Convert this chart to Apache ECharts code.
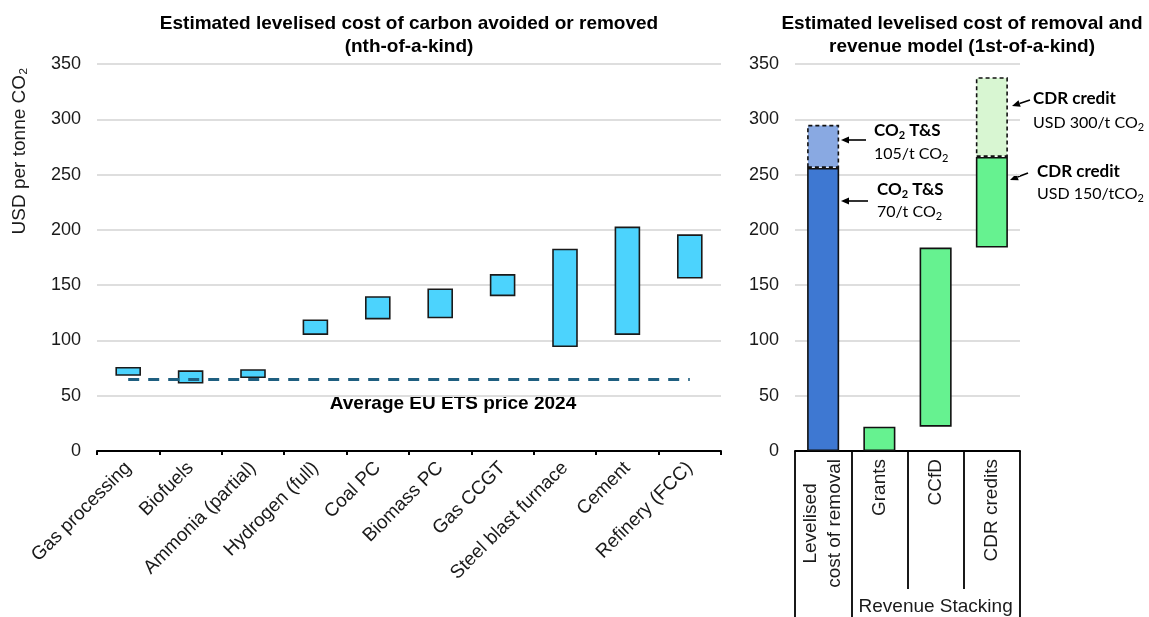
<!DOCTYPE html>
<html>
<head>
<meta charset="utf-8">
<script src="https://cdn.jsdelivr.net/npm/echarts@6/dist/echarts.min.js"></script>
<style>
  html, body { margin: 0; padding: 0; background: #fff; }
  #chart { width: 1149px; height: 617px; }
</style>
</head>
<body>
<div id="chart"></div>
<script>
// Levelised cost of carbon avoided or removed, nth-of-a-kind (USD per tonne CO2)
const sectors = ['Gas processing', 'Biofuels', 'Ammonia (partial)', 'Hydrogen (full)', 'Coal PC',
  'Biomass PC', 'Gas CCGT', 'Steel blast furnace', 'Cement', 'Refinery (FCC)'];
const costLow  = [68, 61, 66, 105, 119, 120, 140, 94, 105, 156];
const costHigh = [76, 73, 74, 119, 140, 147, 160, 183, 203, 196];
const etsPrice = 65;

// Removal cost and revenue model, 1st-of-a-kind
const revenueCats = ['Levelised\ncost of removal', 'Grants', 'CCfD', 'CDR credits'];
const revenueLow   = [0, 0, 22, 184];
const revenueHigh  = [256, 22, 184, 266];
const revenueUpper = [295, null, null, 338];

const yTicks = [0, 50, 100, 150, 200, 250, 300, 350];

const FONT = '"Liberation Sans", Arial, sans-serif';
const NOTE_FONT = 'Lato, "Liberation Sans", sans-serif';
const TEXT = '#1a1a1a';
const CYAN = '#4cd3fd';
const BLUE = '#3e78d2';
const BLUE_LIGHT = '#89a9e2';
const GREEN = '#66f290';
const GREEN_LIGHT = '#d8f6d2';

const chart = echarts.init(document.getElementById('chart'), null, { renderer: 'canvas' });

const yAxisCommon = {
  type: 'value', min: yTicks[0], max: yTicks[yTicks.length - 1], interval: yTicks[1] - yTicks[0],
  axisLine: { show: false }, axisTick: { show: false },
  axisLabel: { color: TEXT, fontFamily: FONT, fontSize: 18, margin: 16 },
  splitLine: { lineStyle: { color: '#dedede', width: 2 } }
};

const rangeBars = costHigh.map((h, i) => h - costLow[i]);
const solidSeg = revenueHigh.map((h, i) => h - revenueLow[i]);
const upperSeg = revenueUpper.map((u, i) => (u == null ? null : u - revenueHigh[i]));
const solidColors = [BLUE, GREEN, GREEN, GREEN];
const upperColors = [BLUE_LIGHT, null, null, GREEN_LIGHT];

function arrow(x1, y1, x2, y2) {
  // line from (x1,y1) ending in a filled head at (x2,y2)
  const ang = Math.atan2(y2 - y1, x2 - x1);
  const len = 8, half = 3.5;
  const bx = x2 - len * Math.cos(ang), by = y2 - len * Math.sin(ang);
  const px = -Math.sin(ang) * half, py = Math.cos(ang) * half;
  return {
    type: 'group',
    children: [
      { type: 'line', shape: { x1: x1, y1: y1, x2: bx, y2: by }, style: { stroke: '#000', lineWidth: 1.6 } },
      { type: 'polygon', shape: { points: [[x2, y2], [bx + px, by + py], [bx - px, by - py]] }, style: { fill: '#000' } }
    ]
  };
}

const noteRich = {
  b: { fontFamily: NOTE_FONT, fontWeight: 'bold', fontSize: 17, color: TEXT },
  bs: { fontFamily: NOTE_FONT, fontWeight: 'bold', fontSize: 11, color: TEXT, padding: [9, 0, 0, 0] },
  r: { fontFamily: NOTE_FONT, fontSize: 16, color: TEXT },
  rs: { fontFamily: NOTE_FONT, fontSize: 11, color: TEXT, padding: [9, 0, 0, 0] }
};
function note(x, y, text) {
  return { type: 'text', x: x, y: y, style: { text: text, rich: noteRich, verticalAlign: 'middle', align: 'left' } };
}

const titleStyle = { align: 'center', verticalAlign: 'top', fontFamily: FONT, fontWeight: 'bold', fontSize: 19, lineHeight: 23, fill: '#000' };

chart.setOption({
  animation: false,
  grid: [
    { left: 97, top: 64, width: 624, height: 387 },
    { left: 795, top: 64, width: 225, height: 387 }
  ],
  xAxis: [
    {
      type: 'category', gridIndex: 0, data: sectors, boundaryGap: true,
      axisLine: { lineStyle: { color: '#000', width: 2 } },
      axisTick: { show: true, length: 4, lineStyle: { color: '#000', width: 2 } },
      axisLabel: { rotate: 45, color: TEXT, fontFamily: FONT, fontSize: 19, margin: 14, interval: 0 }
    },
    {
      type: 'category', gridIndex: 1, data: revenueCats, boundaryGap: true,
      axisLine: { lineStyle: { color: '#000', width: 2 } },
      axisTick: { show: true, length: 138, lineStyle: { color: '#000', width: 1.8 } },
      axisLabel: {
        rotate: 90, interval: 0, margin: 8,
        formatter: v => v.split('\n').map(s => '{c|' + s + '}').join('\n'),
        rich: { c: { align: 'center', color: TEXT, fontFamily: FONT, fontSize: 19, lineHeight: 24 } }
      }
    },
    {
      type: 'value', gridIndex: 1, min: 0, max: 4, position: 'bottom', offset: 138,
      axisLine: { show: false },
      splitLine: { show: false },
      axisTick: { show: true, customValues: [0, 1, 4], length: 28, lineStyle: { color: '#000', width: 1.8 } },
      axisLabel: { customValues: [2.5], formatter: () => 'Revenue Stacking', color: TEXT, fontFamily: FONT, fontSize: 19, margin: 8 }
    }
  ],
  yAxis: [
    Object.assign({ gridIndex: 0 }, yAxisCommon),
    Object.assign({ gridIndex: 1 }, yAxisCommon)
  ],
  series: [
    {
      type: 'bar', xAxisIndex: 0, yAxisIndex: 0, stack: 'cost', data: costLow,
      itemStyle: { color: 'transparent' }, barWidth: '41%', silent: true
    },
    {
      type: 'bar', xAxisIndex: 0, yAxisIndex: 0, stack: 'cost', data: rangeBars, barWidth: '41%',
      itemStyle: { color: CYAN, borderColor: '#1a1a1a', borderWidth: 1.6 },
      markLine: {
        silent: true, symbol: 'none', label: { show: false },
        lineStyle: { color: '#1f5f80', width: 3, type: [11, 9] },
        data: [[{ coord: [0, etsPrice] }, { coord: [sectors.length - 1, etsPrice] }]]
      }
    },
    {
      type: 'bar', xAxisIndex: 1, yAxisIndex: 1, stack: 'rev', data: revenueLow,
      itemStyle: { color: 'transparent' }, barWidth: '57%', silent: true
    },
    {
      type: 'bar', xAxisIndex: 1, yAxisIndex: 1, stack: 'rev', barWidth: '57%',
      data: solidSeg.map((v, i) => ({ value: v, itemStyle: { color: solidColors[i] } })),
      itemStyle: { borderColor: '#111', borderWidth: 1.6 }
    },
    {
      type: 'bar', xAxisIndex: 1, yAxisIndex: 1, stack: 'rev', barWidth: '57%',
      data: upperSeg.map((v, i) => ({ value: v, itemStyle: { color: upperColors[i] || 'transparent' } })),
      itemStyle: { borderColor: '#111', borderWidth: 1.6, borderType: [4, 3] }
    }
  ],
  graphic: [
    { type: 'text', x: 409, y: 12, style: Object.assign({ text: 'Estimated levelised cost of carbon avoided or removed\n(nth-of-a-kind)' }, titleStyle) },
    { type: 'text', x: 962, y: 12, style: Object.assign({ text: 'Estimated levelised cost of removal and\nrevenue model (1st-of-a-kind)' }, titleStyle) },
    { type: 'text', x: 20, y: 151, rotation: Math.PI / 2, style: { text: 'USD per tonne CO₂', align: 'center', verticalAlign: 'middle', fontFamily: FONT, fontSize: 19, fill: TEXT } },
    { type: 'text', x: 453, y: 404, style: { text: 'Average EU ETS price 2024', align: 'center', verticalAlign: 'middle', fontFamily: FONT, fontWeight: 'bold', fontSize: 19, fill: '#000' } },
    note(874, 131, '{b|CO}{bs|2}{b| T&S}'),
    note(874, 154, '{r|105/t CO}{rs|2}'),
    note(877, 190, '{b|CO}{bs|2}{b| T&S}'),
    note(877, 212, '{r|70/t CO}{rs|2}'),
    note(1033, 99, '{b|CDR credit}'),
    note(1033, 123, '{r|USD 300/t CO}{rs|2}'),
    note(1037, 172, '{b|CDR credit}'),
    note(1037, 194, '{r|USD 150/tCO}{rs|2}'),
    arrow(866, 140, 841, 140),
    arrow(868, 201, 841, 201),
    arrow(1030, 100, 1012, 106),
    arrow(1028, 173, 1010, 180)
  ]
});
</script>
</body>
</html>
